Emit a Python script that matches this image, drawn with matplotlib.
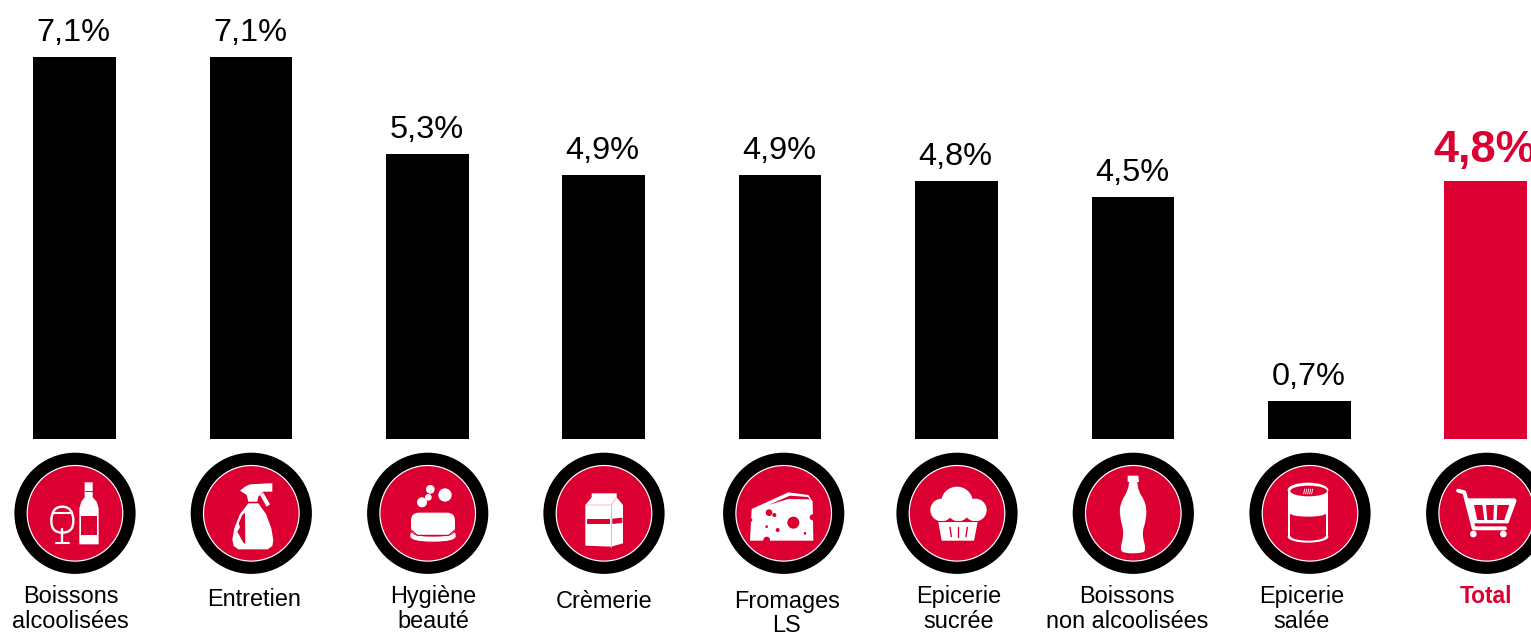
import matplotlib
matplotlib.use("Agg")
import matplotlib.pyplot as plt
from matplotlib.patches import Circle, Ellipse, Polygon, PathPatch, FancyBboxPatch
from matplotlib.path import Path
from matplotlib.transforms import Affine2D

plt.rcParams['font.family'] = ['Liberation Sans', 'DejaVu Sans']

categories = ["Boissons\nalcoolisées", "Entretien", "Hygiène\nbeauté", "Crèmerie", "Fromages\nLS",
              "Epicerie\nsucrée", "Boissons\nnon alcoolisées", "Epicerie\nsalée", "Total"]
values = [7.1, 7.1, 5.3, 4.9, 4.9, 4.8, 4.5, 0.7, 4.8]
value_labels = ["7,1%", "7,1%", "5,3%", "4,9%", "4,9%", "4,8%", "4,5%", "0,7%", "4,8%"]

# layout, in pixels
W, H = 1531, 634
X0, DX = 74.5, 176.4
BASE_Y = 439
PX_PER_UNIT = 53.8
label_x = [70.8, 254, 433, 604, 786.7, 958.7, 1126.8, 1302, 1485.5]
label_y = [603, 606, 603, 608, 608, 603, 603, 603, 603]
circle_x = [75, 251.3, 427.7, 604, 783.7, 957, 1133.3, 1310, 1486.7]
CIRCLE_Y = 513.3

RED = '#DC0032'
BLACK = '#000000'
WHITE = '#FFFFFF'

fig = plt.figure(figsize=(W / 100, H / 100), dpi=100)

# bars live on a value axis that fills the figure
ax = fig.add_axes([0, 0, 1, 1])
ax.set_xlim(-X0 / DX, (W - X0) / DX)
ax.set_ylim(-(H - BASE_Y) / PX_PER_UNIT, BASE_Y / PX_PER_UNIT)
ax.axis('off')
colors = [BLACK] * (len(values) - 1) + [RED]
ax.bar(range(len(values)), values, width=82.5 / DX, color=colors, linewidth=0)

for i, (v, lab) in enumerate(zip(values, value_labels)):
    total = categories[i] == "Total"
    ax.annotate(lab, (i, v), xytext=(-0.7, (19 if total else 16) * 0.72),
                textcoords='offset points',
                ha='center', va='baseline', fontsize=32.5 if total else 23.4,
                fontweight='bold' if total else 'normal', color=RED if total else BLACK,
                annotation_clip=False)

# second layer in pixel coordinates for the round badges and captions
px = fig.add_axes([0, 0, 1, 1], facecolor='none')
px.set_xlim(0, W)
px.set_ylim(H, 0)
px.axis('off')

for i, lab in enumerate(categories):
    total = lab == "Total"
    last = label_y[i] + 24.5 * lab.count("\n")
    px.text(label_x[i], last, lab, ha='center', va='baseline', multialignment='center',
            fontsize=16.4 if total else 16.9, fontweight='bold' if total else 'normal',
            color=RED if total else BLACK, linespacing=1.08)

for cx in circle_x:
    px.add_patch(Circle((cx, CIRCLE_Y), 60.6, fc=BLACK, lw=0))
    px.add_patch(Circle((cx, CIRCLE_Y), 48.4, fc=WHITE, lw=0))
    px.add_patch(Circle((cx, CIRCLE_Y), 47.2, fc=RED, lw=0))


# icon shapes are written in third-of-a-pixel units, origin given per icon
def units(ox):
    return Affine2D().scale(1 / 3).translate(ox, 440) + px.transData


def poly(tf, pts, fc=WHITE):
    px.add_patch(Polygon(pts, closed=True, fc=fc, lw=0, transform=tf))


def blob(tf, pts, fc=WHITE, ec='none', lw=0):
    # closed smooth outline, control points joined through their midpoints
    n = len(pts)
    mid = lambda a, b: ((a[0] + b[0]) / 2, (a[1] + b[1]) / 2)
    verts = [mid(pts[-1], pts[0])]
    codes = [Path.MOVETO]
    for k in range(n):
        verts += [pts[k], mid(pts[k], pts[(k + 1) % n])]
        codes += [Path.CURVE3, Path.CURVE3]
    px.add_patch(PathPatch(Path(verts, codes), fc=fc, ec=ec, lw=lw, transform=tf))


def dot(tf, x, y, r, fc=WHITE):
    px.add_patch(Circle((x, y), r, fc=fc, lw=0, transform=tf))


def stroke(tf, pts, c=WHITE, lw=1.0):
    xs, ys = zip(*pts)
    px.plot(xs, ys, color=c, lw=lw, transform=tf, solid_capstyle='round', solid_joinstyle='round')


# wine glass and bottle
t = units(0)
poly(t, [(254, 127), (278, 127), (278, 172), (290, 185), (296, 205), (296, 313), (238, 313), (238, 205),
         (244, 185), (254, 172)])
poly(t, [(243, 228), (292, 228), (292, 285), (243, 285)], RED)
stroke(t, [(254, 152), (278, 152)], RED, 0.7)
blob(t, [(156, 200), (218, 200), (222, 278), (152, 278)], fc='none', ec=WHITE, lw=1.7)
stroke(t, [(158, 219), (216, 219)], WHITE, 1.5)
stroke(t, [(186, 268), (186, 309)], WHITE, 1.7)
stroke(t, [(169, 310), (206, 310)], WHITE, 1.5)

# spray bottle
t = units(0)
poly(t, [(720, 152), (735, 140), (750, 133), (805, 130), (817, 130), (817, 155), (805, 155), (790, 155),
         (775, 170), (772, 185), (745, 185), (740, 165)])
poly(t, [(745, 190), (775, 190), (798, 222), (814, 265), (820, 300), (817, 318), (803, 328), (715, 328),
         (701, 318), (697, 298), (703, 265), (720, 222)])
poly(t, [(780, 165), (790, 158), (810, 193), (800, 200)])
poly(t, [(735, 218), (727, 225), (716, 250), (720, 262), (712, 275), (720, 290), (730, 308), (736, 312)], RED)

# soap
t = units(0)
for x, y, r in [(1291, 148, 13), (1335, 165, 20), (1285, 172, 10), (1266, 187, 15)]:
    dot(t, x, y, r)
px.add_patch(FancyBboxPatch((1233, 218), 132, 67, boxstyle='round,pad=0,rounding_size=24',
                            fc=WHITE, lw=0, transform=t))
blob(t, [(1231, 272), (1246, 290), (1352, 290), (1367, 272), (1367, 305), (1231, 305)])
stroke(t, [(1236, 272), (1252, 286), (1346, 286), (1362, 272)], RED, 0.8)

# milk carton
t = units(510)
poly(t, [(226, 195), (245, 172), (245, 160), (320, 160), (320, 172), (339, 195), (339, 310), (303, 320), (226, 317)])
poly(t, [(230, 236), (300, 236), (300, 252), (230, 252)], RED)
poly(t, [(307, 236), (337, 233), (337, 249), (307, 252)], RED)
stroke(t, [(303, 195), (303, 320)], '#F4A0B4', 0.6)
stroke(t, [(226, 195), (303, 195), (320, 172)], '#F4A0B4', 0.5)

# cheese wedge
t = units(510)
poly(t, [(725, 207), (835, 157), (895, 165), (908, 185), (910, 302), (720, 302)])
poly(t, [(775, 195), (840, 167), (893, 171), (900, 178), (835, 177)], RED)
for x, y, r in [(850, 248, 18), (777, 218, 10), (793, 225, 6), (770, 260, 4), (803, 270, 6),
                (885, 280, 4), (908, 232, 9), (770, 300, 10), (722, 240, 5)]:
    dot(t, x, y, r, RED)

# cupcake
t = units(510)
for x, y, r in [(1341, 188, 48), (1295, 210, 34), (1396, 210, 34), (1345, 212, 32), (1315, 190, 18), (1370, 190, 18)]:
    dot(t, x, y, r)
poly(t, [(1285, 246), (1403, 246), (1392, 302), (1295, 302)])
stroke(t, [(1285, 242), (1402, 242)], RED, 0.8)
for a, b in [((1320, 262), (1324, 290)), ((1345, 262), (1345, 290)), ((1372, 262), (1368, 290))]:
    stroke(t, [a, b], RED, 1.0)

# soda bottle
t = units(1021)
poly(t, [(320, 107), (352, 107), (354, 126), (320, 126)])
blob(t, [(324, 120), (350, 120), (350, 150), (376, 190), (376, 240), (362, 280),
         (376, 330), (362, 340), (312, 340), (296, 330), (310, 280), (296, 230), (297, 190), (322, 150)])

# tin can
t = units(1021)
poly(t, [(800, 150), (922, 150), (922, 290), (800, 290)])
px.add_patch(Ellipse((861, 150), 122, 44, fc=WHITE, lw=0, transform=t))
px.add_patch(Ellipse((861, 290), 122, 36, fc=WHITE, lw=0, transform=t))
px.add_patch(Ellipse((863, 153), 110, 32, fc=RED, lw=0, transform=t))
poly(t, [(808, 222), (915, 222), (915, 287), (808, 287)], RED)
px.add_patch(Ellipse((861, 287), 107, 30, fc=RED, lw=0, transform=t))
px.add_patch(Ellipse((861, 220), 107, 20, fc=WHITE, lw=0, transform=t))
for x in [848, 854, 860, 866, 872]:
    stroke(t, [(x, 162), (x + 3, 147)], WHITE, 0.6)

# shopping cart
t = units(1021)
poly(t, [(1335, 175), (1482, 175), (1487, 182), (1462, 250), (1358, 250)])
poly(t, [(1359, 195), (1384, 195), (1390, 240), (1369, 240)], RED)
poly(t, [(1395, 195), (1419, 195), (1417, 240), (1399, 240)], RED)
poly(t, [(1429, 195), (1465, 195), (1450, 240), (1427, 240)], RED)
stroke(t, [(1311, 152), (1330, 157), (1358, 265), (1452, 265)], WHITE, 2.8)
dot(t, 1357, 282, 10)
dot(t, 1447, 282, 10)

fig.savefig('out.png', dpi=100)
